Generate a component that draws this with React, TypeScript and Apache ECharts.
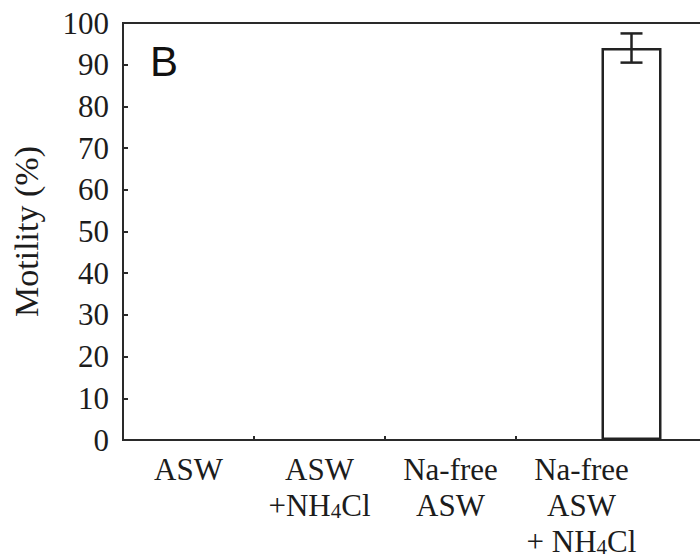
import React, { useEffect, useRef } from 'react';
import * as echarts from 'echarts';

const categories = ['ASW', 'ASW\n+NH4Cl', 'Na-free\nASW', 'Na-free\nASW\n+ NH4Cl', ''];
const motility = [0, 0, 0, 94, null];
const motilityErr = [0, 0, 0, 3.5, null];
const yTicks = [0, 10, 20, 30, 40, 50, 60, 70, 80, 90, 100];

const BAR_W = 60;
const BAR_GAP_PX = 40;
const SERIF = "'Liberation Serif', 'Times New Roman', serif";
const INK = '#1c1c1c';

export default function App() {
  const ref = useRef<HTMLDivElement>(null);
  useEffect(() => {
    if (!ref.current) return;
    const chart = echarts.init(ref.current, null, { renderer: 'svg' });
    const errData = motility
      .map((v, i) => (v != null && (motilityErr[i] as number) > 0 ? [i, v - (motilityErr[i] as number), v + (motilityErr[i] as number)] : null))
      .filter((d) => d !== null);
    const barData = motility.map((v) =>
      v === 0 ? { value: v, itemStyle: { borderWidth: 0 } } : v
    );
    const offset = (BAR_W + BAR_GAP_PX) / 2;
    chart.setOption({
      animation: false,
      backgroundColor: '#ffffff',
      grid: {
        left: 123,
        top: 23,
        bottom: 119,
        width: 655,
        outerBoundsMode: 'none',
        containLabel: false,
        show: true,
        borderColor: '#2a2a2a',
        borderWidth: 2,
        backgroundColor: 'transparent',
      },
      graphic: [
        {
          type: 'text',
          left: 150,
          top: 40,
          style: { text: 'B', fontFamily: "'Liberation Sans', Arial, sans-serif", fontSize: 42, fill: '#111' },
        },
      ],
      xAxis: {
        type: 'category',
        data: categories,
        axisLine: { show: true, lineStyle: { color: '#2a2a2a', width: 2 } },
        axisTick: { show: true, inside: true, length: 4, lineStyle: { color: '#2a2a2a', width: 2 } },
        axisLabel: {
          interval: 0,
          margin: 11,
          fontFamily: SERIF,
          fontSize: 31,
          lineHeight: 36,
          color: INK,
          formatter: (v: string) => v.replace(/NH4/g, 'NH{sub|4}'),
          rich: {
            sub: { fontFamily: SERIF, fontSize: 21, lineHeight: 21, verticalAlign: 'bottom', color: INK, padding: [0, 0, 2, 0] },
          },
        },
        splitLine: { show: false },
      },
      yAxis: {
        type: 'value',
        min: yTicks[0],
        max: yTicks[yTicks.length - 1],
        interval: yTicks[1] - yTicks[0],
        name: 'Motility (%)',
        nameLocation: 'middle',
        nameGap: 80,
        nameTextStyle: { fontFamily: SERIF, fontSize: 34, color: INK },
        axisLine: { show: true, lineStyle: { color: '#2a2a2a', width: 2 } },
        axisTick: { show: true, inside: true, length: 5, lineStyle: { color: '#2a2a2a', width: 2 } },
        axisLabel: { margin: 14, fontFamily: SERIF, fontSize: 31, color: INK },
        splitLine: { show: false },
      },
      series: [
        {
          type: 'bar',
          data: [],
          barWidth: BAR_W,
          barGap: `${(BAR_GAP_PX / BAR_W) * 100}%`,
          silent: true,
        },
        {
          type: 'bar',
          data: barData,
          barWidth: BAR_W,
          barGap: `${(BAR_GAP_PX / BAR_W) * 100}%`,
          itemStyle: { color: '#ffffff', borderColor: '#222', borderWidth: 2.5 },
          z: 3,
        },
        {
          type: 'custom',
          data: errData,
          encode: { x: 0, y: [1, 2] },
          z: 4,
          renderItem: (params: any, api: any) => {
            const xi = api.value(0);
            const lo = api.coord([xi, api.value(1)]);
            const hi = api.coord([xi, api.value(2)]);
            const cx = lo[0] + offset;
            const cap = 11;
            const style = { stroke: '#222', lineWidth: 2.5, fill: 'none' };
            return {
              type: 'group',
              children: [
                { type: 'line', shape: { x1: cx, y1: lo[1], x2: cx, y2: hi[1] }, style },
                { type: 'line', shape: { x1: cx - cap, y1: lo[1], x2: cx + cap, y2: lo[1] }, style },
                { type: 'line', shape: { x1: cx - cap, y1: hi[1], x2: cx + cap, y2: hi[1] }, style },
              ],
            };
          },
        },
      ],
    });
    return () => chart.dispose();
  }, []);
  return <div ref={ref} style={{ width: 700, height: 559, position: 'absolute', left: 0, top: 0 }} />;
}
